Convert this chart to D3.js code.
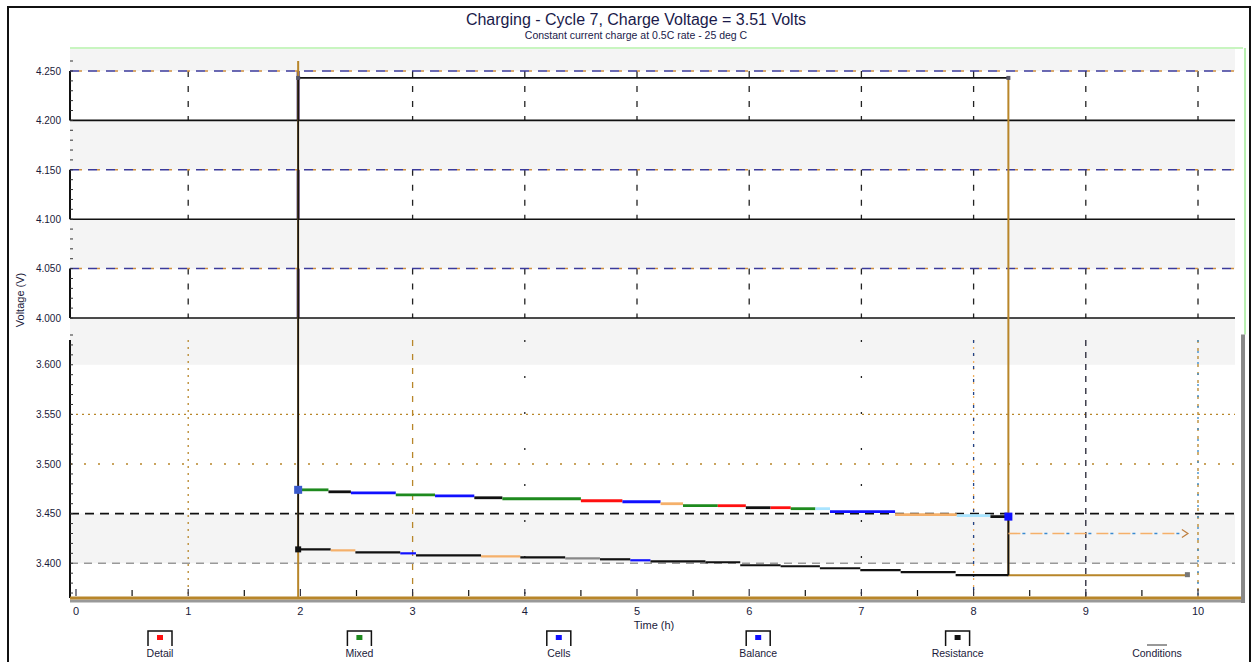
<!DOCTYPE html>
<html>
<head>
<meta charset="utf-8">
<script src="https://cdn.jsdelivr.net/npm/d3@7"></script>
<style>
  body { margin: 0; background: #fff; }
  svg { display: block; font-family: "Liberation Sans", Arial, sans-serif; }
</style>
</head>
<body>
<svg id="chart" width="1255" height="662"></svg>
<script>
// ---- data ----
const xTicks = [0, 1, 2, 3, 4, 5, 6, 7, 8, 9, 10];
const xTickLabels = ['0', '1', '2', '3', '4', '5', '6', '7', '8', '9', '10'];
const upperTicks = [4.25, 4.20, 4.15, 4.10, 4.05, 4.00];
const lowerTicks = [3.60, 3.55, 3.50, 3.45, 3.40];
const bandTops = [4.25, 4.15, 4.05];      // dash-dot band tops
const bandBottoms = [4.20, 4.10, 4.00];   // solid band bottoms
const shadeBands = [[4.25, 4.273], [4.15, 4.20], [4.05, 4.10], [3.60, 4.00], [3.40, 3.45]];

// charge step trace (start x, value, colour key)
const stepStart = [1.98, 2.25, 2.45, 2.85, 3.20, 3.55, 3.80, 4.50, 4.87, 5.21, 5.41, 5.72, 5.97, 6.19, 6.37, 6.59, 6.72, 7.30, 7.85, 8.15];
const stepValue = [3.474, 3.472, 3.471, 3.469, 3.468, 3.466, 3.465, 3.463, 3.462, 3.460, 3.458, 3.458, 3.456, 3.456, 3.455, 3.455, 3.452, 3.449, 3.448, 3.447];
const stepColor = ['green', 'black', 'blue', 'green', 'blue', 'black', 'green', 'red', 'blue', 'orange', 'green', 'red', 'black', 'red', 'green', 'cyan', 'blue', 'orange', 'cyan', 'black'];
const stepEnd = 8.31;

// lower trace
const lowX = [1.98, 2.27, 2.49, 2.89, 3.03, 3.61, 3.96, 4.36, 4.67, 4.94, 5.12, 5.61, 5.92, 6.28, 6.63, 6.99, 7.35, 7.84, 8.31];
const lowV = [3.414, 3.413, 3.411, 3.410, 3.408, 3.407, 3.406, 3.405, 3.404, 3.403, 3.402, 3.401, 3.398, 3.397, 3.395, 3.393, 3.391, 3.388, 3.388];
const lowColor = ['black', 'orange', 'black', 'blue', 'black', 'orange', 'black', 'gray', 'black', 'blue', 'black', 'black', 'black', 'black', 'black', 'black', 'black', 'black'];

const eventStart = 1.98, eventEnd = 8.31, restEnd = 9.91;
const topLevel = 4.243;
const restLevel = 3.388;
const projLevel = 3.430;

const legendLabels = ['Detail', 'Mixed', 'Cells', 'Balance', 'Resistance', 'Conditions'];
const legendMarks = ['red', 'green', 'blue', 'blue', 'black', null];

// ---- drawing ----
const colors = { green: '#1e8a1e', black: '#111', blue: '#1010ff', red: '#ff1010',
                 orange: '#f5b06a', cyan: '#a8e4ff', gray: '#888' };
const gold = '#b8862a';

const svg = d3.select('#chart');
const x = d3.scaleLinear().domain([0, 10]).range([76, 1198]);
const y = d3.scaleLinear().domain([3.365, 3.63, 4.0, 4.25, 4.273]).range([598, 335, 318, 71, 48]);
const xL = 70, xR = x(10.33);

// outer frame
svg.append('rect').attr('x', 8).attr('y', 7).attr('width', 1242).attr('height', 670)
  .attr('fill', 'none').attr('stroke', '#111').attr('stroke-width', 2);

// shaded bands
svg.selectAll('.shade').data(shadeBands).enter().append('rect')
  .attr('x', xL).attr('width', xR - xL)
  .attr('y', d => y(d[1])).attr('height', d => y(d[0]) - y(d[1]))
  .attr('fill', '#f4f4f4');

// top & right light border
svg.append('line').attr('x1', xL).attr('x2', xR + 8).attr('y1', y(4.273)).attr('y2', y(4.273))
  .attr('stroke', '#c8f5c0').attr('stroke-width', 2);
svg.append('line').attr('x1', xR + 10).attr('x2', xR + 10).attr('y1', y(4.273)).attr('y2', y(3.64))
  .attr('stroke', '#b8f0b0').attr('stroke-width', 2);
svg.append('line').attr('x1', xR + 8).attr('x2', xR + 8).attr('y1', y(3.64)).attr('y2', y(3.36))
  .attr('stroke', '#888').attr('stroke-width', 4);

// upper vertical grid inside bands
bandBottoms.forEach((b, i) => {
  const top = bandTops[i];
  xTicks.filter(t => t > 0 && t !== 2).forEach(t => {
    svg.append('line').attr('x1', x(t)).attr('x2', x(t))
      .attr('y1', y(top)).attr('y2', y(b))
      .attr('stroke', '#222').attr('stroke-width', 1.3).attr('stroke-dasharray', '6,9');
  });
  svg.append('line').attr('x1', x(eventStart)).attr('x2', x(eventStart)).attr('y1', y(top)).attr('y2', y(b))
    .attr('stroke', '#3a2370').attr('stroke-width', 3);
  svg.append('line').attr('x1', xL).attr('x2', xL).attr('y1', y(top)).attr('y2', y(b))
    .attr('stroke', '#111').attr('stroke-width', 2);
});

// band top dash-dot lines
bandTops.forEach(v => {
  svg.append('line').attr('x1', xL).attr('x2', xR).attr('y1', y(v)).attr('y2', y(v))
    .attr('stroke', '#3b3a9a').attr('stroke-width', 1.5).attr('stroke-dasharray', '9,9');
  svg.append('line').attr('x1', xL + 9).attr('x2', xR).attr('y1', y(v)).attr('y2', y(v))
    .attr('stroke', '#d09040').attr('stroke-width', 1.5).attr('stroke-dasharray', '3,15');
});
// band bottom solid lines
bandBottoms.forEach(v => {
  svg.append('line').attr('x1', xL).attr('x2', xR).attr('y1', y(v)).attr('y2', y(v))
    .attr('stroke', '#111').attr('stroke-width', 1.6);
});

// lower horizontal grid
const hStyles = [
  { v: 3.55, stroke: gold, w: 1.3, dash: '2,4' },
  { v: 3.50, stroke: gold, w: 1.3, dash: '2,12' },
  { v: 3.45, stroke: '#111', w: 1.6, dash: '9,6' },
  { v: 3.40, stroke: '#999', w: 1.6, dash: '8,6' }
];
hStyles.forEach(s => {
  svg.append('line').attr('x1', xL).attr('x2', xR).attr('y1', y(s.v)).attr('y2', y(s.v))
    .attr('stroke', s.stroke).attr('stroke-width', s.w).attr('stroke-dasharray', s.dash);
});

// lower vertical grid
const vStyles = [
  { t: 1, stroke: gold, dash: '2,5' },
  { t: 3, stroke: gold, dash: '6,8' },
  { t: 4, stroke: '#222', dash: '2,34' },
  { t: 7, stroke: '#222', dash: '2,34' },
  { t: 8, stroke: '#f0b060', dash: '2,5' },
  { t: 8, stroke: '#224488', dash: '3,10' },
  { t: 9, stroke: '#223', dash: '6,6' },
  { t: 10, stroke: gold, dash: '3,5' },
  { t: 10, stroke: '#3388cc', dash: '2,9' }
];
vStyles.forEach(s => {
  svg.append('line').attr('x1', x(s.t)).attr('x2', x(s.t)).attr('y1', y(3.625)).attr('y2', y(3.365))
    .attr('stroke', s.stroke).attr('stroke-width', 1.3).attr('stroke-dasharray', s.dash);
});

// y axis (lower part line)
svg.append('line').attr('x1', xL).attr('x2', xL).attr('y1', y(3.625)).attr('y2', y(3.365))
  .attr('stroke', '#111').attr('stroke-width', 2);
const yAxis = svg.append('g').attr('transform', `translate(${xL - 6},0)`)
  .call(d3.axisLeft(y).tickValues(upperTicks.concat(lowerTicks)).tickSize(0).tickFormat(d3.format('.3f')));
yAxis.select('.domain').remove();
yAxis.selectAll('text').attr('font-size', 10).attr('fill', '#1a1a3a');
// minor ticks
const minor = d3.range(3.37, 4.27, 0.01).filter(v => !(v > 3.632 && v < 3.998));
svg.selectAll('.ymin').data(minor).enter().append('line')
  .attr('x1', xL).attr('x2', xL + 3).attr('y1', d => y(d)).attr('y2', d => y(d))
  .attr('stroke', '#333').attr('stroke-width', 1);

// gold event lines
const lineGen = d3.line().x(d => x(d[0])).y(d => y(d[1]));
svg.append('path').datum([[eventStart, 4.26], [eventStart, 3.365]])
  .attr('d', lineGen).attr('stroke', gold).attr('stroke-width', 2).attr('fill', 'none');
svg.append('path').datum([[eventEnd, topLevel], [eventEnd, restLevel], [restEnd, restLevel]])
  .attr('d', lineGen).attr('stroke', gold).attr('stroke-width', 2).attr('fill', 'none');

// upper black level
svg.append('path').datum([[eventStart, topLevel], [eventEnd, topLevel]])
  .attr('d', lineGen).attr('stroke', '#111').attr('stroke-width', 1.6).attr('fill', 'none');
svg.append('path').datum([[eventStart, topLevel], [eventStart, lowV[0]]])
  .attr('d', lineGen).attr('stroke', '#111').attr('stroke-width', 1.6).attr('fill', 'none');
svg.append('path').datum([[eventEnd, stepValue[stepValue.length - 1]], [eventEnd, restLevel]])
  .attr('d', lineGen).attr('stroke', '#111').attr('stroke-width', 1.8).attr('fill', 'none');
[[eventStart, topLevel], [eventEnd, topLevel]].forEach(p => {
  svg.append('rect').attr('x', x(p[0]) - 2).attr('y', y(p[1]) - 2).attr('width', 4).attr('height', 4)
    .attr('fill', '#556');
});

// projected dashed rest line
svg.append('path').datum([[eventEnd, projLevel], [restEnd - 0.05, projLevel]])
  .attr('d', lineGen).attr('stroke', '#f5b06a').attr('stroke-width', 1.6)
  .attr('stroke-dasharray', '12,10').attr('fill', 'none');
svg.append('path').datum([[eventEnd, projLevel], [restEnd - 0.05, projLevel]])
  .attr('d', lineGen).attr('stroke', '#3a8ad0').attr('stroke-width', 1.6)
  .attr('stroke-dasharray', '3,19').attr('stroke-dashoffset', -14).attr('fill', 'none');
svg.append('path')
  .attr('d', `M${x(restEnd) - 6},${y(projLevel) - 4} L${x(restEnd)},${y(projLevel)} L${x(restEnd) - 6},${y(projLevel) + 4}`)
  .attr('stroke', '#c08040').attr('fill', 'none').attr('stroke-width', 1.3);
svg.append('rect').attr('x', x(restEnd) - 3).attr('y', y(restLevel) - 3).attr('width', 5).attr('height', 5)
  .attr('fill', '#777');

// colored step trace
stepStart.forEach((s, i) => {
  const e = i < stepStart.length - 1 ? stepStart[i + 1] : stepEnd;
  svg.append('line').attr('x1', x(s)).attr('x2', x(e))
    .attr('y1', y(stepValue[i])).attr('y2', y(stepValue[i]))
    .attr('stroke', colors[stepColor[i]]).attr('stroke-width', 2.8);
});
svg.append('rect').attr('x', x(stepEnd) - 4).attr('y', y(stepValue[stepValue.length - 1]) - 4)
  .attr('width', 8).attr('height', 8).attr('fill', '#1010ff');
svg.append('rect').attr('x', x(eventStart) - 4).attr('y', y(stepValue[0]) - 4)
  .attr('width', 8).attr('height', 8).attr('fill', '#3a5acc');

// lower trace
lowX.slice(0, -1).forEach((s, i) => {
  svg.append('line').attr('x1', x(s)).attr('x2', x(lowX[i + 1]))
    .attr('y1', y(lowV[i])).attr('y2', y(lowV[i]))
    .attr('stroke', colors[lowColor[i]]).attr('stroke-width', 2.2);
});
svg.append('rect').attr('x', x(eventStart) - 3).attr('y', y(lowV[0]) - 3)
  .attr('width', 6).attr('height', 6).attr('fill', '#111');

// x axis
svg.append('line').attr('x1', xL).attr('x2', xR + 6).attr('y1', 601).attr('y2', 601)
  .attr('stroke', '#999').attr('stroke-width', 3);
svg.append('line').attr('x1', xL).attr('x2', xR + 6).attr('y1', 598).attr('y2', 598)
  .attr('stroke', gold).attr('stroke-width', 3);
const xMinor = d3.range(0.5, 10.3, 1);
svg.selectAll('.xmin').data(xMinor).enter().append('line')
  .attr('x1', d => x(d)).attr('x2', d => x(d)).attr('y1', 590).attr('y2', 596)
  .attr('stroke', '#111').attr('stroke-width', 1.2);
svg.selectAll('.xmaj').data(xTicks).enter().append('line')
  .attr('x1', d => x(d)).attr('x2', d => x(d)).attr('y1', 589).attr('y2', 596)
  .attr('stroke', '#334').attr('stroke-width', 1.2);
svg.selectAll('.xlab').data(xTicks).enter().append('text')
  .attr('x', d => x(d)).attr('y', 615).attr('text-anchor', 'middle')
  .attr('font-size', 11).attr('fill', '#1a1a3a')
  .text((d, i) => xTickLabels[i]);
svg.append('text').attr('x', 654).attr('y', 629).attr('text-anchor', 'middle')
  .attr('font-size', 11).attr('fill', '#1a1a3a').text('Time (h)');
svg.append('text').attr('transform', 'translate(24,300) rotate(-90)').attr('text-anchor', 'middle')
  .attr('font-size', 11).attr('fill', '#1a1a3a').text('Voltage (V)');

// title
svg.append('text').attr('x', 636).attr('y', 25).attr('text-anchor', 'middle')
  .attr('font-size', 16).attr('fill', '#1a1a4a').text('Charging - Cycle 7, Charge Voltage = 3.51 Volts');
svg.append('text').attr('x', 636).attr('y', 39).attr('text-anchor', 'middle')
  .attr('font-size', 10.5).attr('fill', '#1a1a4a').text('Constant current charge at 0.5C rate - 25 deg C');

// legend
const legendX = d3.scalePoint().domain(legendLabels).range([160, 1157]);
const leg = svg.selectAll('.leg').data(legendLabels).enter().append('g')
  .attr('transform', d => `translate(${legendX(d)},0)`);
leg.filter((d, i) => legendMarks[i] !== null).append('path')
  .attr('d', 'M-12,646 L-12,631 L12,631 L12,646')
  .attr('fill', '#fff').attr('stroke', '#111').attr('stroke-width', 1.5);
leg.filter((d, i) => legendMarks[i] !== null).append('rect')
  .attr('x', -3).attr('y', 635).attr('width', 6).attr('height', 5)
  .attr('fill', d => colors[legendMarks[legendLabels.indexOf(d)]]);
leg.filter((d, i) => legendMarks[i] === null).append('line')
  .attr('x1', -10).attr('x2', 10).attr('y1', 645).attr('y2', 645).attr('stroke', '#333');
leg.append('text').attr('y', 657).attr('text-anchor', 'middle')
  .attr('font-size', 10.5).attr('fill', '#1a1a3a').text(d => d);
</script>
</body>
</html>
